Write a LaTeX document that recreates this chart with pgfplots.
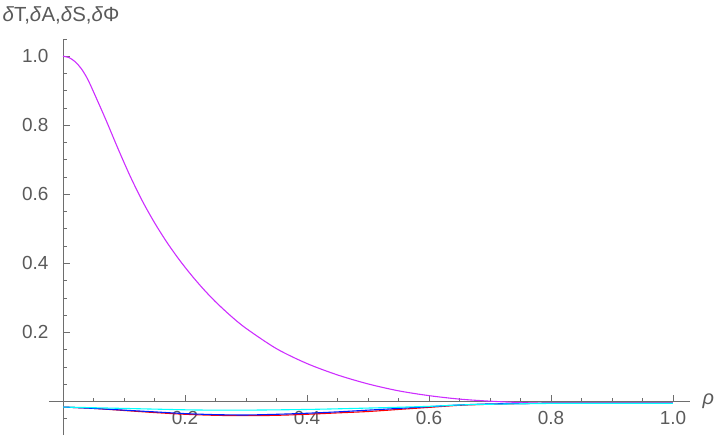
\documentclass[border=0pt]{standalone}
\usepackage{fontspec}
\setmainfont{Liberation Sans}
\usepackage{pgfplots}
\pgfplotsset{compat=1.18}
\definecolor{axgray}{RGB}{110,110,110}
\definecolor{lblgray}{RGB}{90,90,90}
\definecolor{cmag}{RGB}{205,45,255}
\definecolor{cred}{RGB}{255,0,0}
\definecolor{cblue}{RGB}{0,30,255}
\definecolor{ccyan}{RGB}{0,255,255}

\begin{document}
\begin{tikzpicture}
\fontsize{19}{22}\selectfont
\begin{axis}[
  scale only axis,
  width=641bp, height=396bp,
  xmin=-0.023, xmax=1.028,
  ymin=-0.097, ymax=1.05,
  axis lines=middle,
  axis line style={axgray, line width=0.8pt, -},
  tick style={axgray, line width=0.8pt},
  tick align=inside,
  major tick length=7bp,
  minor tick length=3.5bp,
  xtick={0.2,0.4,0.6,0.8,1.0},
  ytick={0.2,0.4,0.6,0.8,1.0},
  minor xtick={0.05,0.1,0.15,0.25,0.3,0.35,0.45,0.5,0.55,0.65,0.7,0.75,0.85,0.9,0.95},
  minor ytick={-0.05,0.05,0.1,0.15,0.25,0.3,0.35,0.45,0.5,0.55,0.65,0.7,0.75,0.85,0.9,0.95,1.05},
  xticklabel style={lblgray, font=\fontsize{19}{22}\selectfont, anchor=north, yshift=-3bp},
  yticklabel style={lblgray, font=\fontsize{19}{22}\selectfont, anchor=east, xshift=-8bp},
  /pgf/number format/assume math mode=true,
  /pgf/number format/fixed,
  /pgf/number format/fixed zerofill,
  /pgf/number format/precision=1,
  xlabel={\textit{ρ}},
  ylabel={\textit{δ}T,\textit{δ}A,\textit{δ}S,\textit{δ}Φ},
  xlabel style={lblgray, font=\fontsize{20}{22}\selectfont, at={(axis cs:1.028,0)}, anchor=west, xshift=6bp},
  ylabel style={lblgray, font=\fontsize{20.5}{22}\selectfont, at={(axis cs:0,1.05)}, anchor=base, yshift=17bp, xshift=-2bp, rotate=0},
  every axis plot/.append style={line width=1.1pt, smooth},
  clip=false,
]
\addplot[cmag] coordinates {
(0,1.0)(0.01,0.996)(0.02,0.984)(0.03,0.964)(0.04,0.935)(0.05,0.897)
(0.07,0.817)(0.09,0.733)(0.11,0.653)(0.13,0.581)(0.15,0.518)(0.17,0.462)
(0.19,0.412)(0.21,0.367)(0.23,0.326)(0.25,0.289)(0.275,0.248)(0.3,0.212)
(0.35,0.153)(0.4,0.110)(0.45,0.077)(0.5,0.051)(0.55,0.031)(0.6,0.017)
(0.65,0.007)(0.7,0.001)(0.75,-0.003)(0.8,-0.005)(0.9,-0.005)(1.0,-0.005)};
\addplot[cred] coordinates {
(0,-0.016)(0.05,-0.020)(0.1,-0.026)(0.15,-0.032)(0.2,-0.037)(0.25,-0.040)
(0.3,-0.041)(0.35,-0.040)(0.4,-0.037)(0.45,-0.033)(0.5,-0.029)(0.55,-0.023)
(0.6,-0.017)(0.65,-0.011)(0.7,-0.008)(0.75,-0.006)(0.8,-0.005)(0.9,-0.005)(1.0,-0.005)};
\addplot[cblue] coordinates {
(0,-0.016)(0.05,-0.020)(0.1,-0.025)(0.15,-0.030)(0.2,-0.035)(0.25,-0.038)
(0.3,-0.039)(0.35,-0.037)(0.4,-0.034)(0.45,-0.030)(0.5,-0.025)(0.55,-0.020)
(0.6,-0.015)(0.65,-0.010)(0.7,-0.007)(0.75,-0.006)(0.8,-0.005)(0.9,-0.005)(1.0,-0.005)};
\addplot[ccyan] coordinates {
(0,-0.016)(0.1,-0.020)(0.2,-0.024)(0.25,-0.025)(0.3,-0.025)(0.4,-0.023)
(0.5,-0.019)(0.6,-0.014)(0.65,-0.010)(0.7,-0.008)(0.8,-0.0055)(0.9,-0.0055)(1.0,-0.0055)};
\end{axis}
\pgfresetboundingbox
\useasboundingbox (-49bp,-3bp) rectangle (671bp,435bp);
\end{tikzpicture}
\end{document}
